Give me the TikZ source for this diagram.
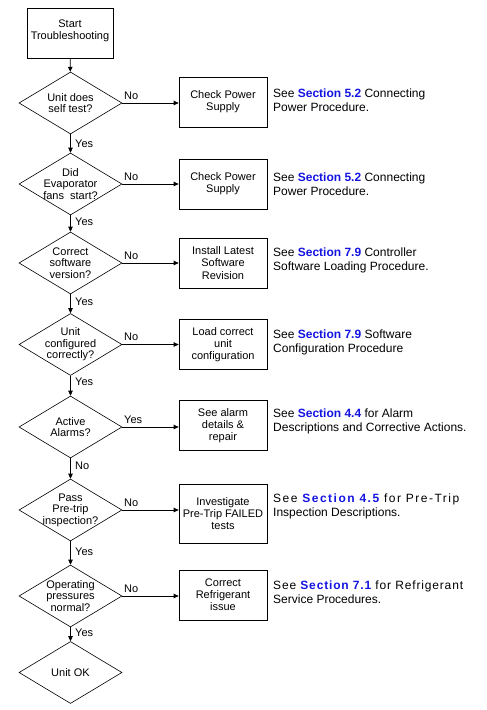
\documentclass[tikz,border=0pt]{standalone}
\usepackage{fontspec}
\setmainfont{Liberation Sans}
\newfontfamily\spacedA[LetterSpace=12.5]{Liberation Sans}
\newfontfamily\spacedB[LetterSpace=7]{Liberation Sans}
\usetikzlibrary{shapes.geometric,arrows.meta}
\definecolor{secblue}{RGB}{20,20,225}
\newcommand{\secref}[1]{{\bfseries\color{secblue}Section #1}}
\tikzset{
  flow/.style={line width=0.7pt, -{Triangle[length=5pt,width=4.5pt]}},
  decision/.style={diamond, draw, line width=0.6pt, minimum width=103pt, minimum height=62pt, inner sep=0pt},
  dtext/.style={align=center, font=\fontsize{11}{11.5}\selectfont, inner sep=0pt},
  actbox/.style={draw, line width=0.7pt, minimum width=88pt, minimum height=50pt, align=center, inner sep=0pt, font=\fontsize{11}{12.2}\selectfont},
  note/.style={anchor=west, align=left, inner sep=0pt, font=\fontsize{12}{14.2}\selectfont},
  lbl/.style={font=\fontsize{11}{12}\selectfont, inner sep=0pt}
}
\begin{document}
\begin{tikzpicture}[x=1pt,y=-1pt]
\useasboundingbox (0,0) rectangle (487,710);
% start
\node[draw, line width=0.7pt, minimum width=86pt, minimum height=50pt, inner sep=0pt] (start) at (70,33) {};
\node[dtext] at (70,31) {Start\\Troubleshooting};
% decisions
\node[decision] (d1) at (70.5,103) {};
\node[dtext] at (d1) {Unit does\\self test?};
\node[decision] (d2) at (70.5,184) {};
\node[dtext] at (d2) {Did\\Evaporator\\fans~ start?};
\node[decision] (d3) at (70.5,263) {};
\node[dtext] at (d3) {Correct\\software\\version?};
\node[decision] (d4) at (70.5,344.5) {};
\node[dtext] at (d4) {Unit\\configured\\correctly?};
\node[decision] (d5) at (70.5,427) {};
\node[dtext] at (d5) {Active\\Alarms?};
\node[decision] (d6) at (70.5,510) {};
\node[dtext] at (d6) {Pass\\Pre-trip\\inspection?};
\node[decision] (d7) at (70.5,596) {};
\node[dtext] at (d7) {Operating\\pressures\\normal?};
\node[decision] (d8) at (70.5,672.5) {};
\node[dtext] at (d8) {Unit OK};
% boxes
\node[actbox] (b1) at (223,102) {Check Power\\Supply};
\node[actbox] (b2) at (223,184) {Check Power\\Supply};
\node[actbox] (b3) at (223,263) {Install Latest\\Software\\Revision};
\node[actbox] (b4) at (223,344.5) {Load correct\\unit\\configuration};
\node[actbox] (b5) at (223,425.5) {See alarm\\details \&\\repair};
\node[actbox, minimum height=59pt] (b6) at (223,513.5) {Investigate\\Pre-Trip FAILED\\tests};
\node[actbox] (b7) at (223,595) {Correct\\Refrigerant\\issue};
% notes
\node[note] (n1) at (273,100) {See \secref{5.2} Connecting\\Power Procedure.};
\node[note] (n2) at (273,184) {See \secref{5.2} Connecting\\Power Procedure.};
\node[note] (n3) at (273,260) {See \secref{7.9} Controller\\Software Loading Procedure.};
\node[note] (n4) at (273,342) {See \secref{7.9} Software\\Configuration Procedure};
\node[note] (n5) at (273,421.5) {See \secref{4.4} for Alarm\\Descriptions and Corrective Actions.};
\node[note] (n6) at (273,506.5) {{\spacedA See \secref{4.5} for Pre-Trip}\\Inspection Descriptions.};
\node[note] (n7) at (273,592.5) {{\spacedB See \secref{7.1} for Refrigerant}\\Service Procedures.};
% vertical flow
\draw[flow] (start) -- (d1);
\draw[flow] (d1) -- (d2);
\draw[flow] (d2) -- (d3);
\draw[flow] (d3) -- (d4);
\draw[flow] (d4) -- (d5);
\draw[flow] (d5) -- (d6);
\draw[flow] (d6) -- (d7);
\draw[flow] (d7) -- (d8);
% vertical labels
\node[lbl, anchor=west] at (75,143.5) {Yes};
\node[lbl, anchor=west] at (75,222) {Yes};
\node[lbl, anchor=west] at (75,302) {Yes};
\node[lbl, anchor=west] at (75,382) {Yes};
\node[lbl, anchor=west] at (75,466) {No};
\node[lbl, anchor=west] at (75,552) {Yes};
\node[lbl, anchor=west] at (75,633) {Yes};
% horizontal flow
\draw[flow] (d1.east) -- (d1.east -| b1.west);
\draw[flow] (d2.east) -- (d2.east -| b2.west);
\draw[flow] (d3.east) -- (d3.east -| b3.west);
\draw[flow] (d4.east) -- (d4.east -| b4.west);
\draw[flow] (d5.east) -- (d5.east -| b5.west);
\draw[flow] (d6.east) -- (d6.east -| b6.west);
\draw[flow] (d7.east) -- (d7.east -| b7.west);
% horizontal labels
\node[lbl, anchor=south west] at (124,99.5) {No};
\node[lbl, anchor=south west] at (124,180.5) {No};
\node[lbl, anchor=south west] at (124,259.5) {No};
\node[lbl, anchor=south west] at (124,341) {No};
\node[lbl, anchor=south west] at (124,423.5) {Yes};
\node[lbl, anchor=south west] at (124,506.5) {No};
\node[lbl, anchor=south west] at (124,592.5) {No};
\end{tikzpicture}
\end{document}
